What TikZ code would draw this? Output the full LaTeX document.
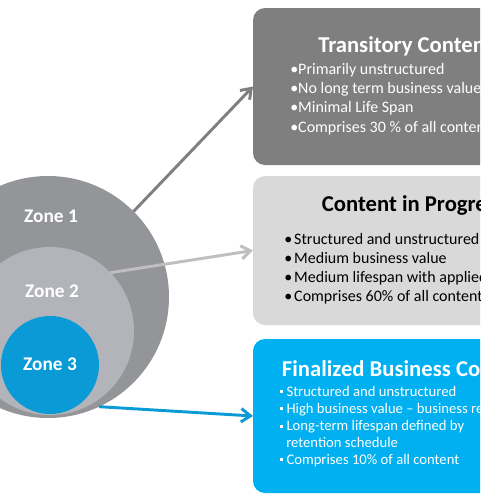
\documentclass[tikz,border=0pt]{standalone}
\usepackage{fontspec}
\setmainfont{Carlito}
\usepackage{xcolor}
\usetikzlibrary{arrows.meta}

\definecolor{zoneonegray}{HTML}{939598}
\definecolor{zonetwogray}{HTML}{B3B4BA}
\definecolor{zoneblue}{HTML}{0A9BD7}
\definecolor{boxdark}{HTML}{7F7F7F}
\definecolor{boxlight}{HTML}{D9D9D9}
\definecolor{boxblue}{HTML}{00B0F0}
\definecolor{arrlight}{HTML}{BFBFBF}

\newcommand{\sqbul}{\rule[2.2pt]{2.3pt}{2.3pt}\hspace{2.4pt}}

\begin{document}
\begin{tikzpicture}[
  x=0.75pt, y=-0.75pt,
  zone/.style={circle, inner sep=0pt, outer sep=0pt},
  zonelabel/.style={font=\fontsize{14.5}{16}\selectfont\bfseries, text=white,
                    anchor=base, inner sep=0pt},
  cbox/.style={rectangle, rounded corners=9pt, minimum width=185pt,
               anchor=north west, inner sep=0pt, outer sep=0pt},
  boxtitle/.style={font=\fontsize{17}{20}\selectfont\bfseries,
                   anchor=base west, inner sep=0pt},
  bodyA/.style={font=\fontsize{12}{14}\selectfont, anchor=base west, inner sep=0pt},
  bodyB/.style={font=\fontsize{11}{13}\selectfont, anchor=base west, inner sep=0pt,
                text=white},
  arr/.style={-{Straight Barb[length=7pt,width=10pt]}, line width=2.2pt},
]
\useasboundingbox (0,0) rectangle (480,497);
\begin{scope}
\clip (0,0) rectangle (480,497);

%% ===== Boxes =====
\node[cbox, fill=boxdark, minimum height=117.75pt] (transitory) at (253,8) {};
\node[cbox, fill=boxlight, minimum height=111.75pt] (progress) at (253,176) {};
\node[cbox, fill=boxblue, minimum height=115.5pt] (finalized) at (253,339) {};

%% ===== Zones =====
\node[zone, fill=zoneonegray, minimum size=181.5pt] (zone1) at (48,297) {};
\node[zone, fill=zonetwogray, minimum size=126pt] (zone2) at (50,331) {};
\node[zone, fill=zoneblue, minimum size=73.5pt] (zone3) at (50,365) {};

\node[zonelabel] (z1lbl) at (51,222) {Zone 1};
\node[zonelabel] (z2lbl) at (52,297) {Zone 2};
\node[zonelabel] (z3lbl) at (50,370) {Zone 3};

%% ===== Arrows =====
\draw[arr, boxdark] (zone1.45) -- (transitory.west);
\draw[arr, arrlight] (zone2.44) -- (progress.west);
\draw[arr, zoneblue] (zone1.-65) -- (finalized.west);

%% ===== Transitory =====
\node[boxtitle, text=white] (ttitle) at (318,52.7) {Transitory Content};
\foreach \txt [count=\i] in {Primarily unstructured, No long term business value,
    Minimal Life Span, Comprises 30 \% of all content}
  \node[bodyA, text=white] (trans\i) at (290,55.2+19.2*\i) {\textbullet\txt};

%% ===== In progress =====
\node[boxtitle, text=black] (ptitle) at (321.7,211.7) {Content in Progress};
\foreach \txt [count=\i] in {Structured and unstructured,
    Medium business value, Medium lifespan with applied retention,
    Comprises 60\% of all content}
  \node[bodyA, text=black] (prog\i) at (284,224.8+19.2*\i) {\textbullet\kern1.5pt\txt};

%% ===== Finalized =====
\node[boxtitle, text=white] (ftitle) at (281.7,376) {Finalized Business Content};
\node[bodyB] (fin1) at (280,396.3) {\sqbul Structured and unstructured};
\node[bodyB] (fin2) at (280,413.3) {\sqbul High business value – business records};
\node[bodyB] (fin3) at (280,430.5) {\sqbul Long-term lifespan defined by};
\node[bodyB] (fin4) at (286,447.3) {retention schedule};
\node[bodyB] (fin5) at (280,464) {\sqbul Comprises 10\% of all content};
\end{scope}
\end{tikzpicture}
\end{document}
